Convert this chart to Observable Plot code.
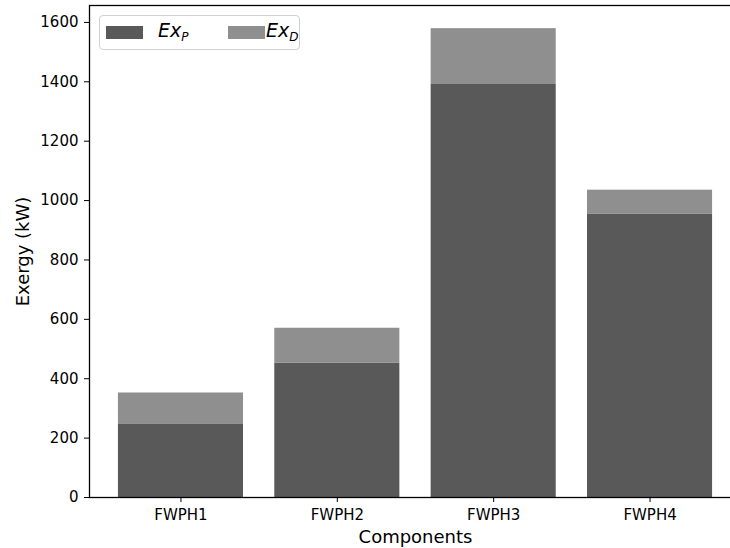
<!DOCTYPE html>
<html>
<head>
<meta charset="utf-8">
<script src="https://cdn.jsdelivr.net/npm/d3@7"></script>
<script src="https://cdn.jsdelivr.net/npm/@observablehq/plot@0.6"></script>
<style>
  html, body { margin: 0; padding: 0; background: white; overflow: hidden; }
  #wrap { position: relative; width: 730px; height: 548px; overflow: hidden; }
  #wrap svg { max-width: none !important; width: 745px; height: 548px; display: block; }
  #legend {
    position: absolute; left: 99px; top: 15px; width: 201px; height: 35px;
    border: 1px solid #d0d0d0; border-radius: 4px; background: rgba(255,255,255,0.8);
    box-sizing: border-box; font-family: "DejaVu Sans", sans-serif;
  }
  .sw { position: absolute; top: 10px; width: 37px; height: 13px; }
  .lab { position: absolute; top: 3px; font-size: 19px; font-style: italic; line-height: 22px; color: #000; }
  .lab sub { font-size: 12px; vertical-align: -4px; }
</style>
</head>
<body>
<div id="wrap"><div id="legend"></div></div>
<script>
const components = ["FWPH1", "FWPH2", "FWPH3", "FWPH4"];
const exP = [248, 452, 1391, 955];
const exD = [104, 118, 188, 80];
const seriesNames = ["ExP", "ExD"];
const seriesColors = ["#595959", "#8f8f8f"];
const yTicks = [0, 200, 400, 600, 800, 1000, 1200, 1400, 1600];
const yMax = 1657;

const data = [];
components.forEach((c, i) => {
  data.push({component: c, series: "ExP", value: exP[i]});
  data.push({component: c, series: "ExD", value: exD[i]});
});

const chart = Plot.plot({
  width: 745,
  height: 548,
  marginLeft: 89,
  marginRight: 4,
  marginTop: 5,
  marginBottom: 51,
  style: {fontFamily: "DejaVu Sans, sans-serif", fontSize: "15px", color: "#000", background: "white"},
  x: {type: "band", domain: components, round: false, paddingInner: 0.2, paddingOuter: 0.185, tickSize: 5, tickPadding: 7, label: null},
  y: {domain: [0, yMax], ticks: yTicks, tickFormat: d => String(d), tickSize: 5, tickPadding: 6, label: null},
  color: {domain: seriesNames, range: seriesColors},
  marks: [
    Plot.barY(data, {x: "component", y: "value", fill: "series", inset: 0}),
    Plot.frame({stroke: "#000", strokeWidth: 1.3}),
    Plot.text(["Components"], {frameAnchor: "bottom", dy: 40, fontSize: 18, lineAnchor: "middle"}),
    Plot.text(["Exergy (kW)"], {frameAnchor: "left", dx: -66, rotate: -90, fontSize: 18, textAnchor: "middle"})
  ]
});
document.getElementById("wrap").prepend(chart);

const legend = document.getElementById("legend");
const swX = [6, 128];
const labX = [58, 166];
const subs = ["P", "D"];
seriesNames.forEach((s, i) => {
  const sw = document.createElement("div");
  sw.className = "sw";
  sw.style.left = swX[i] + "px";
  sw.style.background = seriesColors[i];
  legend.appendChild(sw);
  const lab = document.createElement("div");
  lab.className = "lab";
  lab.style.left = labX[i] + "px";
  lab.innerHTML = "Ex<sub>" + subs[i] + "</sub>";
  legend.appendChild(lab);
});
</script>
</body>
</html>
